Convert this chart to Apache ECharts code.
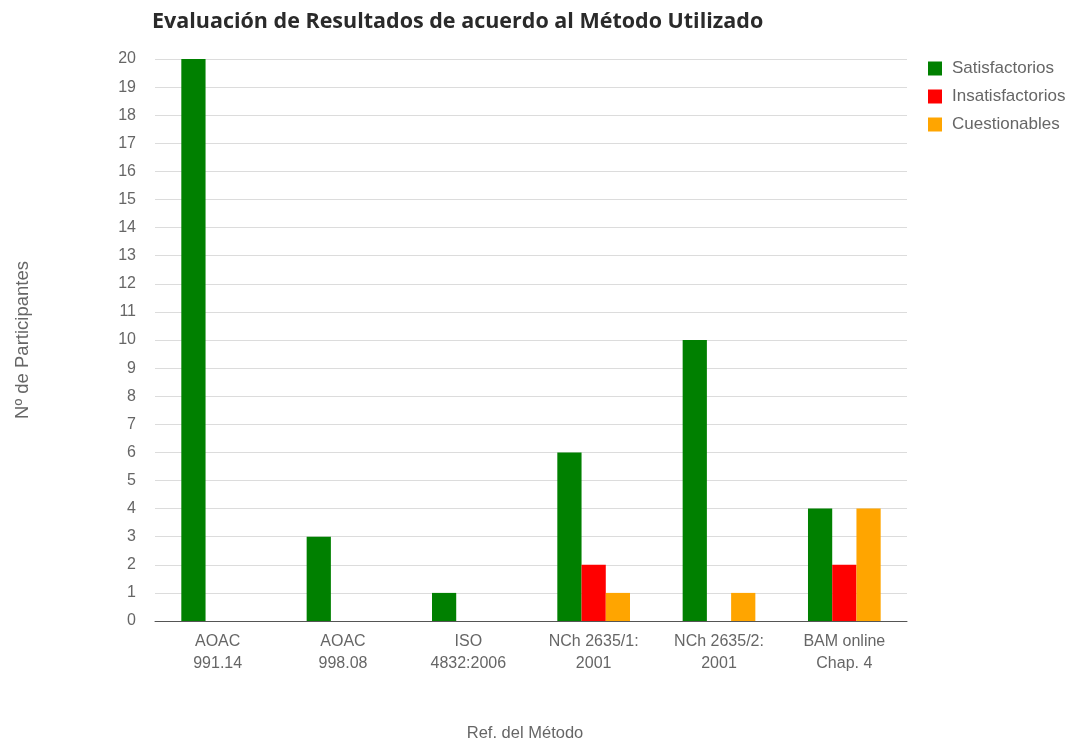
<!DOCTYPE html>
<html>
<head>
<meta charset="utf-8">
<script src="https://cdn.jsdelivr.net/npm/echarts@6/dist/echarts.min.js"></script>
<style>
  html, body { margin: 0; padding: 0; background: #fff; }
  #chart { width: 1072px; height: 743px; }
</style>
</head>
<body>
<div id="chart"></div>
<script>
// Methods evaluated and outcome counts per method
const categories = ['AOAC\n991.14', 'AOAC\n998.08', 'ISO\n4832:2006', 'NCh 2635/1:\n2001', 'NCh 2635/2:\n2001', 'BAM online\nChap. 4'];
const satisfactorios = [20, 3, 1, 6, 10, 4];
const insatisfactorios = [0, 0, 0, 2, 0, 2];
const cuestionables = [0, 0, 0, 1, 1, 4];
const seriesNames = ['Satisfactorios', 'Insatisfactorios', 'Cuestionables'];
const seriesColors = ['#008000', '#ff0000', '#ffa500'];

const chart = echarts.init(document.getElementById('chart'));
const textGrey = '#666';
const font = 'Liberation Sans, Arial, sans-serif';

chart.setOption({
  animation: false,
  title: {
    text: 'Evaluación de Resultados de acuerdo al Método Utilizado',
    left: 152,
    top: 11,
    padding: 0,
    textStyle: { fontFamily: 'Open Sans, DejaVu Sans, sans-serif', fontSize: 21.5, fontWeight: 'bold', color: '#2a2a2a' }
  },
  legend: {
    orient: 'vertical',
    left: 928,
    top: 60,
    padding: 0,
    itemWidth: 14,
    itemHeight: 14,
    itemGap: 11,
    icon: 'rect',
    data: seriesNames,
    textStyle: { fontFamily: font, fontSize: 17, lineHeight: 14, color: textGrey, padding: [0, 0, 0, 5] }
  },
  grid: { left: 155, right: 165, top: 59, bottom: 122, outerBoundsMode: 'none' },
  xAxis: {
    type: 'category',
    data: categories,
    name: 'Ref. del Método',
    nameLocation: 'middle',
    nameGap: 104,
    nameTextStyle: { fontFamily: font, fontSize: 16.5, color: textGrey, padding: [0, 12, 0, 0] },
    axisLine: { lineStyle: { color: '#555', width: 1 } },
    axisTick: { show: false },
    axisLabel: { fontFamily: font, fontSize: 16, color: textGrey, lineHeight: 22, margin: 10 }
  },
  yAxis: {
    type: 'value',
    min: 0,
    max: 20,
    interval: 1,
    name: 'Nº de Participantes',
    nameLocation: 'middle',
    nameGap: 123,
    nameRotate: 90,
    nameTextStyle: { fontFamily: font, fontSize: 18.5, color: textGrey },
    axisLine: { show: false },
    axisTick: { show: false },
    axisLabel: { fontFamily: font, fontSize: 16, color: textGrey, margin: 19 },
    splitLine: { lineStyle: { color: '#dcdcdc', width: 1 } }
  },
  series: [satisfactorios, insatisfactorios, cuestionables].map((vals, i) => ({
    name: seriesNames[i],
    type: 'bar',
    data: vals,
    barGap: '0%',
    barCategoryGap: '42%',
    itemStyle: { color: seriesColors[i] }
  }))
});
</script>
</body>
</html>
